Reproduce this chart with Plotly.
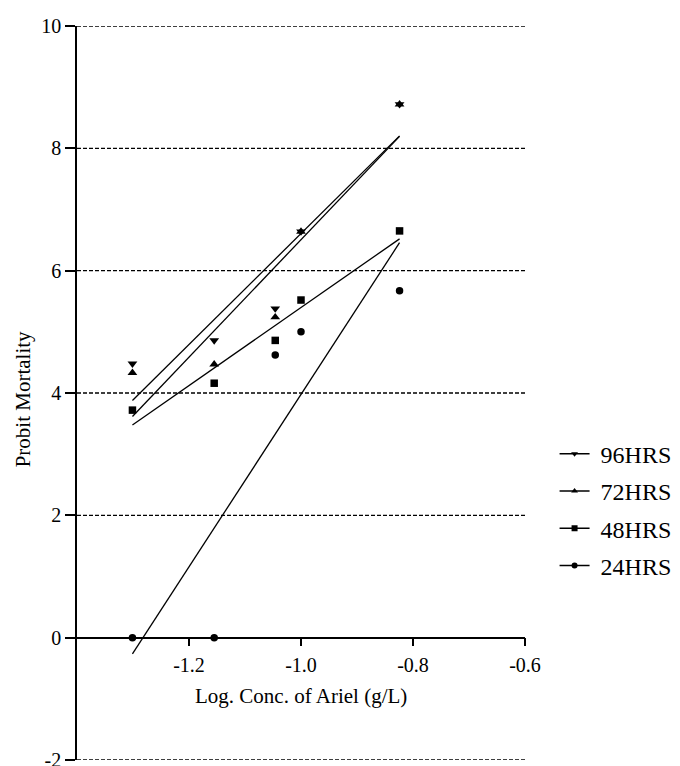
import numpy as np
import plotly.graph_objects as go

# ---- data ----
log_conc = [-1.301, -1.155, -1.046, -1.000, -0.824]
series_names = ["96HRS", "72HRS", "48HRS", "24HRS"]
probit_96 = [4.48, 4.86, 5.38, 6.64, 8.72]
probit_72 = [4.33, 4.47, 5.24, 6.64, 8.72]
probit_48 = [3.72, 4.16, 4.86, 5.52, 6.65]
probit_24 = [0.00, 0.00, 4.62, 5.00, 5.67]
series_values = [probit_96, probit_72, probit_48, probit_24]
symbols = ["triangle-down", "triangle-up", "square", "circle"]
marker_sizes = [8.5, 8.5, 7.5, 7.5]

y_ticks = [-2, 0, 2, 4, 6, 8, 10]
y_tick_labels = ["-2", "0", "2", "4", "6", "8", "10"]
x_ticks = [-1.2, -1.0, -0.8, -0.6]
x_tick_labels = ["-1.2", "-1.0", "-0.8", "-0.6"]
x_title = "Log. Conc. of Ariel (g/L)"
y_title = "Probit Mortality"

FONT = "Liberation Serif, Times New Roman, serif"

fig = go.Figure()

for name, vals, sym, ms in zip(series_names, series_values, symbols, marker_sizes):
    xs = np.array(log_conc)
    ys = np.array(vals)
    slope, intercept = np.polyfit(xs, ys, 1)
    x_line = [xs.min(), xs.max()]
    y_line = [slope * x + intercept for x in x_line]
    fig.add_trace(go.Scatter(
        x=x_line, y=y_line, mode="lines",
        line=dict(color="black", width=1.3),
        showlegend=False, hoverinfo="skip", cliponaxis=False))
    fig.add_trace(go.Scatter(
        x=log_conc, y=vals, mode="markers",
        marker=dict(symbol=sym, size=ms, color="black"),
        showlegend=False, cliponaxis=False, name=name))

# legend-only entries (line + marker symbol)
for name, sym in zip(series_names, symbols):
    fig.add_trace(go.Scatter(
        x=[None], y=[None], mode="lines+markers", name="\u00a0" + name,
        line=dict(color="black", width=1.5),
        marker=dict(symbol=sym, size=6, color="black"),
        legendgroup=name))

shapes = []
for v in y_ticks:
    shapes.append(dict(type="line", xref="paper", x0=0, x1=1, yref="y", y0=v, y1=v,
                       line=dict(color="black", width=1.3, dash="4px,2px"), layer="below"))

fig.update_layout(
    width=680, height=766,
    margin=dict(l=77, r=155, t=26, b=6, autoexpand=False),
    paper_bgcolor="white", plot_bgcolor="white",
    font=dict(family=FONT, color="black", size=20),
    shapes=shapes,
    showlegend=True,
    legend=dict(x=1.066, xanchor="left", y=0.341, yanchor="middle",
                font=dict(size=24, family=FONT, color="black"),
                tracegroupgap=3, traceorder="grouped",
                bgcolor="rgba(0,0,0,0)", borderwidth=0),
    xaxis=dict(range=[-1.4, -0.6], anchor="free", position=1/6,
               showline=True, linecolor="black", linewidth=1.5,
               ticks="outside", ticklen=8, tickwidth=1.5, tickcolor="black",
               tickvals=x_ticks, ticktext=x_tick_labels,
               ticklabelstandoff=2, ticklabeloverflow="allow",
               showgrid=False, zeroline=False,
               tickfont=dict(size=20, family=FONT, color="black")),
    yaxis=dict(range=[-2, 10],
               showline=True, linecolor="black", linewidth=1.5,
               ticks="outside", ticklen=10, tickwidth=1.5, tickcolor="black",
               tickvals=y_ticks, ticktext=y_tick_labels,
               ticklabeloverflow="allow",
               showgrid=False, zeroline=False,
               tickfont=dict(size=20, family=FONT, color="black")),
    annotations=[
        dict(text=x_title, xref="x", x=-1.0, yref="y", y=-0.95,
             xanchor="center", yanchor="middle", showarrow=False,
             font=dict(size=21, family=FONT, color="black")),
        dict(text=y_title, xref="paper", x=-0.12, yref="y", y=3.9,
             xanchor="center", yanchor="middle", showarrow=False, textangle=-90,
             font=dict(size=21, family=FONT, color="black")),
    ],
)

fig.write_html("out.html", config={"displayModeBar": False},
               post_script="document.body.style.margin='0px';")
